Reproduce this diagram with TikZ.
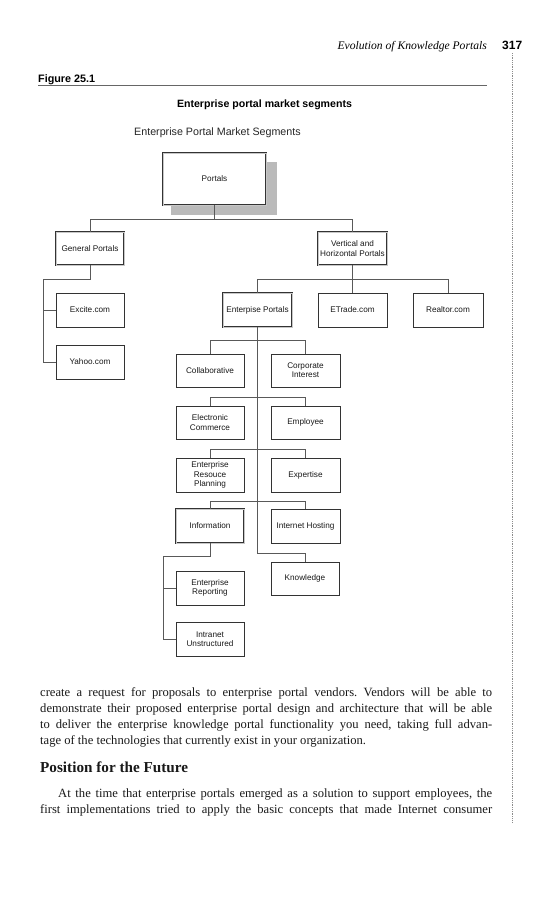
\documentclass[tikz,border=0pt]{standalone}
\usepackage{fontspec}
\setmainfont{Liberation Serif}
\setsansfont{Liberation Sans}
\newcommand{\jline}[2]{\makebox[#1][s]{#2}}
\begin{document}
\frenchspacing
\begin{tikzpicture}[x=1pt,y=-1pt,
  box/.style={draw=black!80, line width=0.6pt, fill=white, inner sep=1pt, align=center,
    font=\sffamily\fontsize{8.2}{9.3}\selectfont, text=black!90,
    minimum width=68pt, minimum height=33pt},
  dbox/.style={box, double=black!22, double distance=0.9pt},
  conn/.style={draw=black!65, line width=0.6pt},
  body/.style={anchor=base west, inner sep=0pt, font=\fontsize{12.6}{16}\selectfont, text=black!90},
]
\useasboundingbox (0,0) rectangle (552,900);
\fill[white] (0,0) rectangle (552,900);

% page header
\node[anchor=base east, inner sep=0pt, font=\itshape\fontsize{11.6}{14}\selectfont] (hdr) at (487,49) {Evolution of Knowledge Portals};
\node[anchor=base west, inner sep=0pt, font=\sffamily\bfseries\fontsize{12}{14}\selectfont] (pg) at (502,49) {317};
\draw[black!45, line width=0.6pt, dash pattern=on 0.6pt off 1.2pt] (512,53) -- (512,823);

% figure caption
\node[anchor=base west, inner sep=0pt, font=\sffamily\bfseries\fontsize{10.8}{13}\selectfont] (fig) at (38,82) {Figure 25.1};
\draw[black!60, line width=0.7pt] (38,85.5) -- (487,85.5);
\node[anchor=base, inner sep=0pt, font=\sffamily\bfseries\fontsize{10.6}{13}\selectfont] (ttl) at (264.5,107) {Enterprise portal market segments};
\node[anchor=base west, inner sep=0pt, font=\sffamily\fontsize{10.7}{13}\selectfont, text=black!85] (sub) at (134,135) {Enterprise Portal Market Segments};

% shadow of top box
\fill[black!27] (171,162) rectangle (277,215);

% boxes
\node[dbox, minimum width=103pt, minimum height=52pt] (portals) at (214.5,179) {Portals};
\node[dbox] (general) at (90,248.5) {General Portals};
\node[dbox, minimum width=69pt] (vert) at (352.5,248.5) {Vertical and\\Horizontal Portals};
\node[box, minimum height=34pt] (excite) at (90,310) {Excite.com};
\node[box, minimum height=34pt] (yahoo) at (90,362) {Yahoo.com};
\node[dbox, minimum width=69pt, minimum height=34pt] (ep) at (257.5,310) {Enterpise Portals};
\node[box, minimum width=69pt, minimum height=34pt] (etrade) at (352.5,310) {ETrade.com};
\node[box, minimum width=70pt, minimum height=34pt] (realtor) at (448,310) {Realtor.com};

\node[box] (collab) at (210,370.5) {Collaborative};
\node[box, minimum width=69pt] (corp) at (305.5,370.5) {Corporate\\Interest};
\node[box] (ecom) at (210,422.5) {Electronic\\Commerce};
\node[box, minimum width=69pt] (empl) at (305.5,422.5) {Employee};
\node[box, minimum height=34pt] (erp) at (210,475) {Enterprise\\Resouce\\Planning};
\node[box, minimum width=69pt, minimum height=34pt] (expert) at (305.5,475) {Expertise};
\node[dbox, minimum height=34pt] (info) at (210,526) {Information};
\node[box, minimum width=69pt, minimum height=34pt] (inet) at (305.5,526) {Internet Hosting};
\node[box] (know) at (305,578.5) {Knowledge};
\node[box, minimum height=34pt] (erep) at (210,588) {Enterprise\\Reporting};
\node[box, minimum height=34pt] (intra) at (210,639) {Intranet\\Unstructured};

% bus coordinates
\coordinate (tbus) at (214.5,219);
\coordinate (gbus) at (43,279);
\coordinate (vbus) at (352.5,279);
\coordinate (b1) at (257.5,340);
\coordinate (b2) at (257.5,397);
\coordinate (b3) at (257.5,449);
\coordinate (b4) at (257.5,501);
\coordinate (eb) at (257.5,553);
\coordinate (ibus) at (163,556);

% connectors
\draw[conn] (portals.south) -- (tbus);
\draw[conn] (general.north) -- (general.north |- tbus) -- (vert.north |- tbus) -- (vert.north);

\draw[conn] (general.south) -- (general.south |- gbus) -- (gbus) -- (gbus |- yahoo.west) -- (yahoo.west);
\draw[conn] (gbus |- excite.west) -- (excite.west);

\draw[conn] (vert.south) -- (vbus);
\draw[conn] (ep.north) -- (ep.north |- vbus) -- (realtor.north |- vbus) -- (realtor.north);
\draw[conn] (etrade.north) -- (etrade.north |- vbus);

\draw[conn] (ep.south) -- (eb) -- (know.north |- eb) -- (know.north);
\draw[conn] (collab.north) -- (collab.north |- b1) -- (corp.north |- b1) -- (corp.north);
\draw[conn] (ecom.north) -- (ecom.north |- b2) -- (empl.north |- b2) -- (empl.north);
\draw[conn] (erp.north) -- (erp.north |- b3) -- (expert.north |- b3) -- (expert.north);
\draw[conn] (info.north) -- (info.north |- b4) -- (inet.north |- b4) -- (inet.north);

\draw[conn] (info.south) -- (info.south |- ibus) -- (ibus) -- (ibus |- intra.west) -- (intra.west);
\draw[conn] (ibus |- erep.west) -- (erep.west);

% body text
\node[body] (l1) at (40,696) {\jline{452pt}{create a request for proposals to enterprise portal vendors. Vendors will be able to}};
\node[body] (l2) at (40,712) {\jline{452pt}{demonstrate their proposed enterprise portal design and architecture that will be able}};
\node[body] (l3) at (40,728) {\jline{452pt}{to deliver the enterprise knowledge portal functionality you need, taking full advan-}};
\node[body] (l4) at (40,744) {tage of the technologies that currently exist in your organization.};
\node[anchor=base west, inner sep=0pt, font=\bfseries\fontsize{15.2}{18}\selectfont, text=black!90] (hd) at (40,772) {Position for the Future};
\node[body] (p1) at (58,797) {\jline{434pt}{At the time that enterprise portals emerged as a solution to support employees, the}};
\node[body] (p2) at (40,813) {\jline{452pt}{first implementations tried to apply the basic concepts that made Internet consumer}};
\end{tikzpicture}
\end{document}
